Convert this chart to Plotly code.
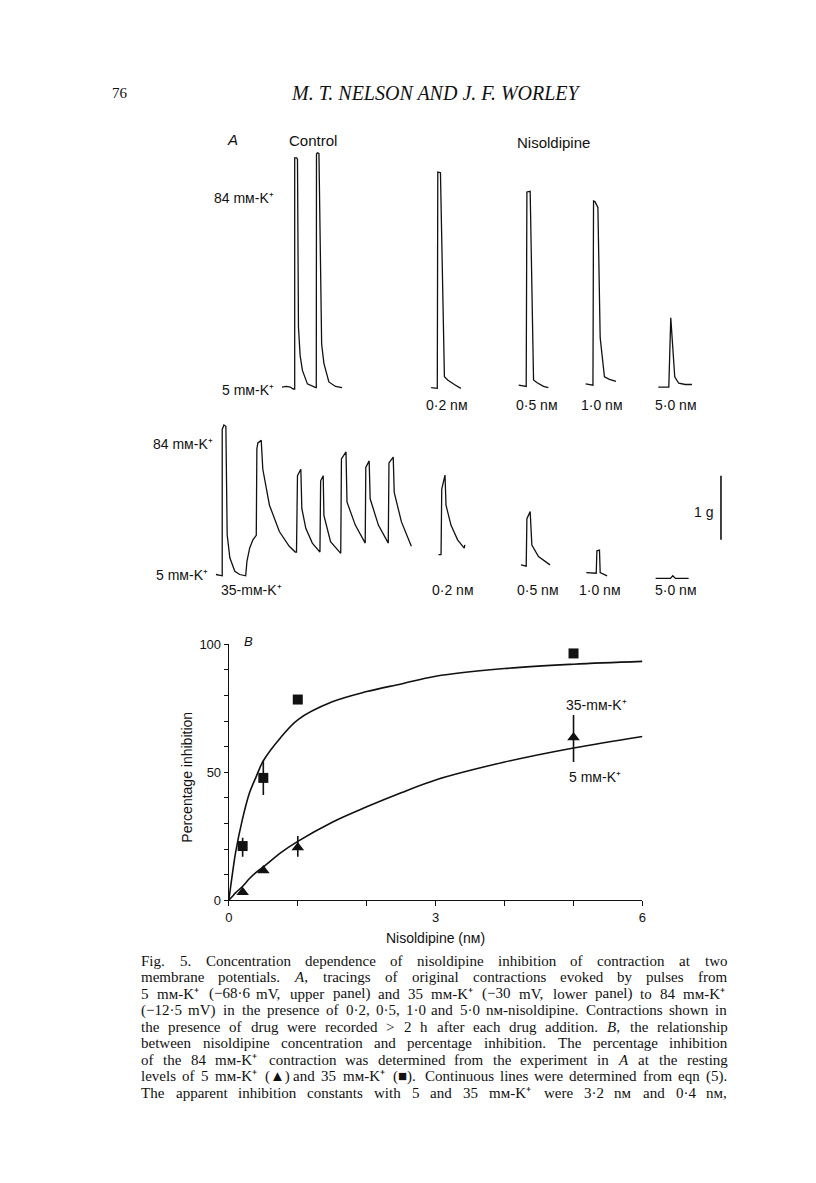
import plotly.graph_objects as go

W, H = 816, 1183
SANS = "Liberation Sans, Arial, sans-serif"
SERIF = "Liberation Serif, Times New Roman, serif"
INK = "#111111"
SC_M = "ᴍ"  # small capital M, as printed in "mᴍ" and "nᴍ"

# ---------------- Panel A: tension traces (time in arbitrary units, tension in g)
# upper panel: pulses from 5 mM-K+
ctrl_up_t = [132.7, 137, 141, 144, 145.5, 145.5, 147.5, 148.3, 149.3, 151, 153.3, 158.3, 166.7,
             167.3, 167.5, 168.3, 170, 172.7, 175, 180, 186.7, 193.3]
ctrl_up_g = [0.01, 0.02, 0.01, -0.02, -0.02, 3.58, 3.58, 3.56, 0.94, 0.50, 0.27, 0.06, 0.0,
             0.0, 3.64, 3.66, 3.65, 0.68, 0.38, 0.09, 0.02, 0.0]
n02_up_t = [283.3, 289.5, 290, 292.7, 296.7, 300, 306.7, 313.3]
n02_up_g = [0.0, -0.01, 3.36, 3.35, 0.17, 0.12, 0.05, -0.01]
n05_up_t = [371.7, 379.3, 380, 383.3, 386.7, 390, 396.7, 401.7]
n05_up_g = [0.04, 0.02, 3.05, 3.06, 0.12, 0.08, 0.02, 0.0]
n10_up_t = [439.3, 446.7, 447.3, 448.7, 451.7, 454, 458.3, 463.3, 470]
n10_up_g = [0.06, 0.04, 2.91, 2.90, 2.81, 0.78, 0.17, 0.13, 0.10]
n50_up_t = [512.7, 523.3, 525.3, 529.3, 533.3, 540, 546.7]
n50_up_g = [0.01, 0.01, 1.09, 0.17, 0.07, 0.05, 0.05]

# lower panel: pulses from 35 mM-K+
ctrl_lo_t = [66, 70, 72.3, 72.3, 74, 76, 77.3, 80, 85, 90, 96, 97.3, 100, 103.3, 106.7,
             107.3, 108.3, 111.7, 113.3, 120, 130, 140, 146,
             147.3, 148.3, 151.7, 152.7, 156.7, 163.3, 171,
             171.7, 174.3, 175, 181.7, 190, 192,
             192.7, 197.3, 198.3, 206.7, 216.7,
             217.3, 220.7, 221.7, 230, 240,
             240.7, 245, 246, 253.3, 263.3]
ctrl_lo_g = [0.02, 0.0, 0.0, 2.28, 2.35, 2.33, 0.64, 0.28, 0.07, 0.02, 0.0, 0.23, 0.43, 0.56, 0.63,
             1.98, 2.07, 2.11, 1.66, 1.10, 0.69, 0.46, 0.37,
             0.37, 1.56, 1.66, 1.05, 0.74, 0.51, 0.37,
             1.48, 1.56, 0.94, 0.53, 0.37, 0.35,
             1.82, 1.93, 1.15, 0.79, 0.51,
             1.69, 1.79, 1.20, 0.79, 0.51,
             1.76, 1.85, 1.30, 0.84, 0.46]
n02_lo_t = [290.7, 293.3, 294, 297.3, 298.3, 303.3, 310, 316.7, 317.3]
n02_lo_g = [0.33, 0.33, 1.35, 1.57, 1.10, 0.79, 0.56, 0.43, 0.48]
n05_lo_t = [374, 379.3, 380, 383.3, 385, 391.7, 403.3]
n05_lo_g = [0.17, 0.15, 0.89, 1.00, 0.48, 0.30, 0.17]
n10_lo_t = [440, 450, 450.7, 453.3, 454, 461]
n10_lo_g = [0.05, 0.04, 0.39, 0.40, 0.05, 0.0]
n50_lo_t = [510, 525, 527.3, 530, 543.3]
n50_lo_g = [-0.04, -0.04, 0.0, -0.04, -0.04]

scale_bar_t = 576
scale_bar_g = [0.56, 1.56]

conc_labels = ["0·2", "0·5", "1·0", "5·0"]

# ---------------- Panel B: percentage inhibition vs nisoldipine (nM)
conc = [0.2, 0.5, 1.0, 5.0]
inh_35k = [21.2, 47.8, 78.4, 96.4]
inh_35k_hi = [24.4, 54.6, 78.4, 96.4]
inh_35k_lo = [17.0, 41.1, 78.4, 96.4]
inh_5k = [3.2, 11.6, 20.6, 63.6]
inh_5k_hi = [3.2, 11.6, 25.1, 72.4]
inh_5k_lo = [3.2, 11.6, 17.0, 54.0]

fit_x = [0, 0.05, 0.1, 0.2, 0.3, 0.4, 0.5, 0.75, 1, 1.5, 2, 2.5, 3, 4, 5, 6]
fit_35k = [0, 10, 19, 32, 42, 48.5, 54.5, 63.5, 70.5, 77.5, 81.5, 84.5, 87.5, 90.5, 92.2, 93.3]
fit_5k = [0, 1.5, 3, 5.5, 8.5, 11, 13, 18.5, 23, 30.5, 36.5, 42, 47, 54, 59.5, 64]

x_ticks = [0, 3, 6]
y_ticks = [0, 50, 100]

caption_lines = [
    "Fig. 5. Concentration dependence of nisoldipine inhibition of contraction at two",
    "membrane potentials. <i>A</i>, tracings of original contractions evoked by pulses from",
    "5 mᴍ-K⁺ (−68·6 mV, upper panel) and 35 mᴍ-K⁺ (−30 mV, lower panel) to 84 mᴍ-K⁺",
    "(−12·5 mV) in the presence of 0·2, 0·5, 1·0 and 5·0 nᴍ-nisoldipine. Contractions shown in",
    "the presence of drug were recorded > 2 h after each drug addition. <i>B</i>, the relationship",
    "between nisoldipine concentration and percentage inhibition. The percentage inhibition",
    "of the 84 mᴍ-K⁺ contraction was determined from the experiment in <i>A</i> at the resting",
    "levels of 5 mᴍ-K⁺ (▲) and 35 mᴍ-K⁺ (■). Continuous lines were determined from eqn (5).",
    "The apparent inhibition constants with 5 and 35 mᴍ-K⁺ were 3·2 nᴍ and 0·4 nᴍ,",
]


def px(x):
    return x / W


def py(y):
    return 1 - y / H


fig = go.Figure()

line_style = dict(color=INK, width=1.3)
upper = [(ctrl_up_t, ctrl_up_g), (n02_up_t, n02_up_g), (n05_up_t, n05_up_g),
         (n10_up_t, n10_up_g), (n50_up_t, n50_up_g)]
lower = [(ctrl_lo_t, ctrl_lo_g), (n02_lo_t, n02_lo_g), (n05_lo_t, n05_lo_g),
         (n10_lo_t, n10_lo_g), (n50_lo_t, n50_lo_g)]
for t, g in upper:
    fig.add_trace(go.Scatter(x=t, y=g, mode="lines", line=line_style, xaxis="x2", yaxis="y2",
                             showlegend=False, cliponaxis=False))
for t, g in lower:
    fig.add_trace(go.Scatter(x=t, y=g, mode="lines", line=line_style, xaxis="x3", yaxis="y3",
                             showlegend=False, cliponaxis=False))
fig.add_trace(go.Scatter(x=[scale_bar_t, scale_bar_t], y=scale_bar_g, mode="lines",
                         line=dict(color=INK, width=1.6), xaxis="x3", yaxis="y3",
                         showlegend=False, cliponaxis=False))

# panel B
fig.add_trace(go.Scatter(x=fit_x, y=fit_35k, mode="lines", line=dict(color=INK, width=1.6, shape="spline"),
                         showlegend=False, cliponaxis=False))
fig.add_trace(go.Scatter(x=fit_x, y=fit_5k, mode="lines", line=dict(color=INK, width=1.6, shape="spline"),
                         showlegend=False, cliponaxis=False))
fig.add_trace(go.Scatter(
    x=conc, y=inh_35k, mode="markers",
    marker=dict(symbol="square", size=10, color=INK),
    error_y=dict(type="data", array=[h - v for h, v in zip(inh_35k_hi, inh_35k)],
                 arrayminus=[v - l for l, v in zip(inh_35k_lo, inh_35k)],
                 width=0, thickness=1.6, color=INK),
    showlegend=False, cliponaxis=False))
fig.add_trace(go.Scatter(
    x=conc, y=inh_5k, mode="markers",
    marker=dict(symbol="triangle-up", size=11, color=INK),
    error_y=dict(type="data", array=[h - v for h, v in zip(inh_5k_hi, inh_5k)],
                 arrayminus=[v - l for l, v in zip(inh_5k_lo, inh_5k)],
                 width=0, thickness=1.6, color=INK),
    showlegend=False, cliponaxis=False))

ann = []


def label(text, x, y, size=14, xanchor="center", family=SANS, angle=0):
    ann.append(dict(text=text, x=px(x), y=py(y), xref="paper", yref="paper",
                    xanchor=xanchor, yanchor="middle", showarrow=False, textangle=angle,
                    font=dict(family=family, size=size, color=INK)))


# header
label("76", 109, 79, size=15, family=SERIF)
label("<i>M. T. NELSON AND J. F. WORLEY</i>", 428.5, 79, size=20, family=SERIF)

# panel A labels
label("<i>A</i>", 222.5, 126, size=15)
label("Control", 304, 127, size=15)
label("Nisoldipine", 546.5, 129.5, size=15)
k84 = "84 mᴍ-K⁺"
k5 = "5 mᴍ-K⁺"
label(k84, 267, 185, xanchor="right")
label(k5, 267, 380, xanchor="right")
label(k84, 205, 435, xanchor="right")
label(k5, 200, 567, xanchor="right")
label("35-mᴍ-K⁺", 209, 582, xanchor="left")
for c, xc in zip(conc_labels, [439.7, 529.7, 595.8, 670.5]):
    label(c + " nᴍ", xc, 395.5)
for c, xc in zip(conc_labels, [445.5, 530.8, 593.8, 670.3]):
    label(c + " nᴍ", xc, 582.5)
label("1 g", 710, 503.5, xanchor="right")

# panel B labels
label("<i>B</i>", 239, 635, size=13)
label("35-mᴍ-K⁺", 590, 698.5)
label("5 mᴍ-K⁺", 588.5, 772)
label("Percentage inhibition", 176.7, 771.5, angle=-90)
label("Nisoldipine (nᴍ)", 428, 935)

# caption, justified between two margins (Times advance widths, 1/1000 em)
TIMES = {" ": 250, "(": 333, ")": 333, "+": 564, ",": 250, "-": 333, ".": 250, ">": 564,
         "·": 250, "−": 564, "▲": 800, "■": 800, ":": 278, ";": 278, SC_M: 680, "⁺": 420}
TIMES.update({d: 500 for d in "0123456789"})
TIMES.update(dict(zip("ABCDEFGHIJKLMNOPQRSTUVWXYZ",
                      [722, 667, 667, 722, 611, 556, 722, 722, 333, 389, 722, 611, 889,
                       722, 722, 556, 722, 667, 556, 611, 722, 722, 944, 722, 722, 611])))
TIMES.update(dict(zip("abcdefghijklmnopqrstuvwxyz",
                      [444, 500, 444, 500, 444, 333, 500, 500, 278, 278, 500, 278, 778,
                       500, 500, 500, 500, 333, 389, 278, 500, 500, 722, 500, 500, 444])))

CAP_SIZE = 15


def word_width(word, size):
    w = 0.0
    i = 0
    while i < len(word):
        if word[i] == "<":
            i = word.index(">", i) + 1
        else:
            w += TIMES.get(word[i], 500) / 1000 * size
            i += 1
    return w


cap_left, cap_right = 129.5, 721
for k, line in enumerate(caption_lines):
    yline = 957.7 + 16.75 * k
    words = line.split(" ")
    widths = [word_width(wd, CAP_SIZE) for wd in words]
    gap = (cap_right - cap_left - sum(widths)) / (len(words) - 1)
    xpos = cap_left
    for wd, wdw in zip(words, widths):
        ann.append(dict(text=wd, x=px(xpos - 1), y=py(yline), xref="paper", yref="paper",
                        xanchor="left", yanchor="middle", showarrow=False,
                        font=dict(family=SERIF, size=CAP_SIZE, color=INK)))
        xpos += wdw + gap

axis_hidden = dict(visible=False, showgrid=False, zeroline=False)
fig.update_layout(
    width=W, height=H,
    margin=dict(l=0, r=0, t=0, b=0),
    paper_bgcolor="white", plot_bgcolor="rgba(0,0,0,0)",
    showlegend=False,
    annotations=ann,
    xaxis=dict(domain=[px(219), px(636.7)], range=[0, 6], tickvals=x_ticks,
               ticks="outside", ticklen=5, tickwidth=1.2, tickcolor=INK,
               minor=dict(dtick=1, ticks="outside", ticklen=5, tickwidth=1.2, tickcolor=INK, showgrid=False),
               showline=True, linecolor=INK, linewidth=1.3, showgrid=False, zeroline=False,
               tickfont=dict(family=SANS, size=13, color=INK), anchor="y"),
    yaxis=dict(domain=[py(896.7), py(637.3)], range=[0, 100], tickvals=y_ticks,
               ticks="outside", ticklen=4, tickwidth=1.2, tickcolor=INK,
               minor=dict(dtick=10, ticks="outside", ticklen=4, tickwidth=1.2, tickcolor=INK, showgrid=False),
               showline=True, linecolor=INK, linewidth=1.3, showgrid=False, zeroline=False,
               tickfont=dict(family=SANS, size=13, color=INK), anchor="x"),
    xaxis2=dict(domain=[px(140), px(720)], range=[0, 580], anchor="y2", **axis_hidden),
    yaxis2=dict(domain=[py(410), py(117.5)], range=[-0.5, 4.0], anchor="x2", **axis_hidden),
    xaxis3=dict(domain=[px(140), px(720)], range=[0, 580], anchor="y3", **axis_hidden),
    yaxis3=dict(domain=[py(600.5), py(373)], range=[-0.5, 3.0], anchor="x3", **axis_hidden),
)

fig.write_html("out.html")
